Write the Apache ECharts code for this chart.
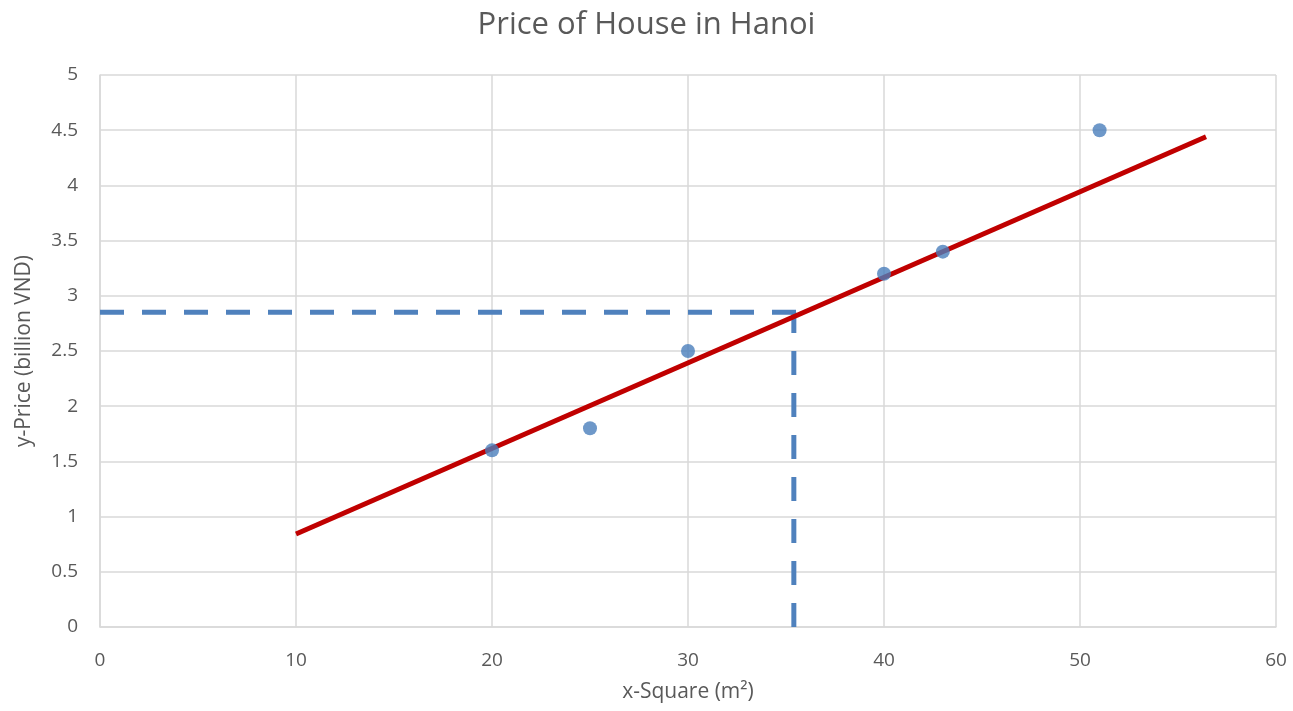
<!DOCTYPE html>
<html>
<head>
<meta charset="utf-8">
<script src="https://cdn.jsdelivr.net/npm/echarts@6/dist/echarts.min.js"></script>
<style>html,body{margin:0;padding:0;background:#fff}#c{width:1293px;height:711px}</style>
</head>
<body>
<div id="c"></div>
<script>
const squares = [20, 25, 30, 40, 43, 51];
const prices = [1.6, 1.8, 2.5, 3.2, 3.4, 4.5];
const trendX = [10, 56.43];
const trendY = [0.842, 4.44];
const guideX = 35.4;
const guideY = 2.85;
const guideEndX = 36;
const xTicks = [0, 10, 20, 30, 40, 50, 60];
const yTicks = [0, 0.5, 1, 1.5, 2, 2.5, 3, 3.5, 4, 4.5, 5];

const chart = echarts.init(document.getElementById('c'));
const font = '"Open Sans", "Noto Sans", sans-serif';
chart.setOption({
  animation: false,
  title: {
    text: 'Price of House in Hanoi',
    left: 'center', top: 5,
    textStyle: { fontFamily: font, fontSize: 31, fontWeight: 'normal', color: '#595959' }
  },
  grid: { left: 100, right: 17, top: 75, bottom: 84 },
  xAxis: {
    type: 'value', min: xTicks[0], max: xTicks[xTicks.length - 1], interval: 10,
    name: 'x-Square (m²)', nameLocation: 'middle', nameGap: 55,
    nameTextStyle: { fontFamily: font, fontSize: 21, color: '#595959' },
    axisLine: { lineStyle: { color: '#d9d9d9', width: 1.5 } },
    axisTick: { show: false },
    axisLabel: { fontFamily: font, fontSize: 19, color: '#595959', margin: 24 },
    splitLine: { lineStyle: { color: '#d9d9d9', width: 1.5 } }
  },
  yAxis: {
    type: 'value', min: yTicks[0], max: yTicks[yTicks.length - 1], interval: 0.5,
    name: 'y-Price (billion VND)', nameLocation: 'middle', nameGap: 65,
    nameTextStyle: { fontFamily: font, fontSize: 21, color: '#595959' },
    axisLine: { show: true, lineStyle: { color: '#d9d9d9', width: 1.5 } },
    axisTick: { show: false },
    axisLabel: { fontFamily: font, fontSize: 19, color: '#595959', margin: 22 },
    splitLine: { lineStyle: { color: '#d9d9d9', width: 1.5 } }
  },
  series: [
    {
      type: 'line', data: [[0, guideY], [guideEndX, guideY]], symbol: 'none',
      lineStyle: { color: '#4F81BD', width: 5, type: [24, 18], cap: 'butt' }, z: 2
    },
    {
      type: 'line', data: [[guideX, 0], [guideX, guideY]], symbol: 'none',
      lineStyle: { color: '#4F81BD', width: 5, type: [24, 18], cap: 'butt' }, z: 2
    },
    {
      type: 'line', data: trendX.map((x, i) => [x, trendY[i]]), symbol: 'none',
      lineStyle: { color: '#C00000', width: 5, cap: 'butt' }, z: 3
    },
    {
      type: 'scatter', data: squares.map((x, i) => [x, prices[i]]), symbolSize: 14,
      itemStyle: { color: '#4A7EBB' }, z: 4
    }
  ]
});
</script>
</body>
</html>
